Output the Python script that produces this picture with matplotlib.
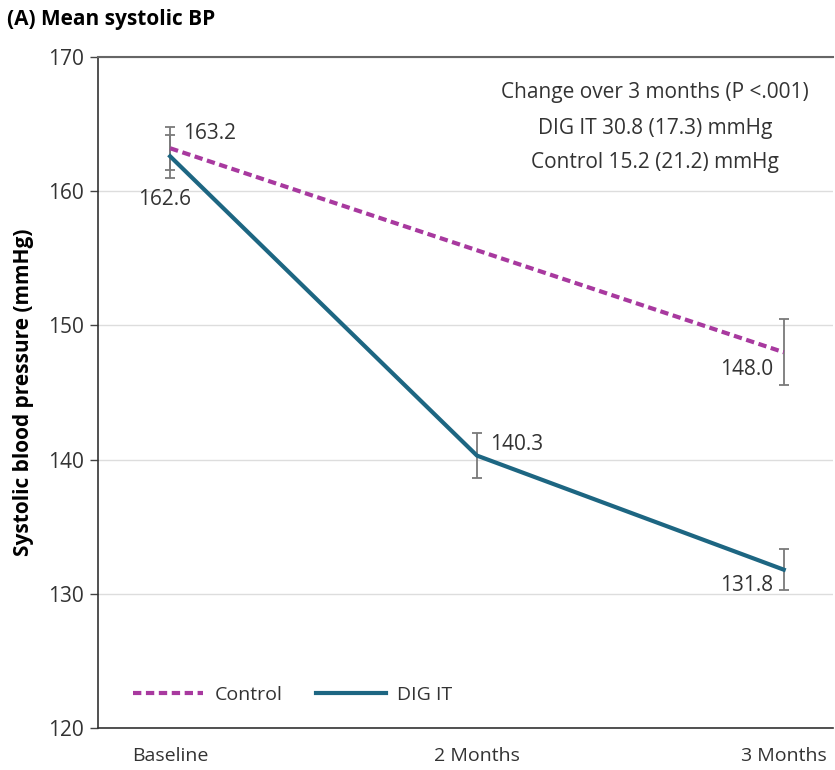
import matplotlib
matplotlib.use("Agg")
import matplotlib.pyplot as plt
from matplotlib.lines import Line2D

plt.rcParams['font.family'] = ['Open Sans', 'DejaVu Sans']

timepoints = ["Baseline", "2 Months", "3 Months"]
control_x = [0, 2]
control_mean = [163.2, 148.0]
control_err = [1.6, 2.45]
digit_x = [0, 1, 2]
digit_mean = [162.6, 140.3, 131.8]
digit_err = [1.6, 1.65, 1.55]

c_control = "#a8399f"
c_digit = "#1d6682"
c_err = "#7a7a7a"
dash = (0, (2.0, 1.1))

fig = plt.figure(figsize=(8.35, 7.7), dpi=100)
ax = fig.add_axes([0.1174, 0.0545, 0.88, 0.8715])

ax.errorbar(control_x, control_mean, yerr=control_err, fmt='none', ecolor=c_err,
            elinewidth=1.3, capsize=3.3, capthick=1.3, zorder=2)
ax.errorbar(digit_x, digit_mean, yerr=digit_err, fmt='none', ecolor=c_err,
            elinewidth=1.3, capsize=3.3, capthick=1.3, zorder=2)
ax.plot(control_x, control_mean, color=c_control, lw=3, ls=dash, zorder=3)
ax.plot(digit_x, digit_mean, color=c_digit, lw=3, zorder=4)

fs = 14
tc = "#333333"
ax.text(0.042, 164.3, f"{control_mean[0]:.1f}", fontsize=15, color=tc, ha='left', va='center')
ax.text(-0.018, 159.4, f"{digit_mean[0]:.1f}", fontsize=15, color=tc, ha='center', va='center')
ax.text(1.042, 141.1, f"{digit_mean[1]:.1f}", fontsize=15, color=tc, ha='left', va='center')
ax.text(1.964, 146.7, f"{control_mean[1]:.1f}", fontsize=15, color=tc, ha='right', va='center')
ax.text(1.964, 130.6, f"{digit_mean[2]:.1f}", fontsize=15, color=tc, ha='right', va='center')

ax.text(0.758, 0.947, "Change over 3 months (P <.001)", transform=ax.transAxes, fontsize=15,
        ha='center', va='center', color=tc)
ax.text(0.758, 0.893, "DIG IT 30.8 (17.3) mmHg", transform=ax.transAxes, fontsize=15,
        ha='center', va='center', color=tc)
ax.text(0.758, 0.843, "Control 15.2 (21.2) mmHg", transform=ax.transAxes, fontsize=15,
        ha='center', va='center', color=tc)

ax.set_xlim(-0.235, 2.16)
ax.set_ylim(120, 170)
ax.set_yticks([120, 130, 140, 150, 160, 170])
ax.set_xticks(digit_x)
ax.set_xticklabels(timepoints)
ax.tick_params(axis='x', length=0, pad=14, labelsize=fs, colors=tc)
ax.tick_params(axis='y', length=6, width=1, pad=4, labelsize=15, colors=tc)
ax.tick_params(axis='y', color="#444444")
ax.yaxis.grid(True, color="#dddddd", lw=1)
ax.set_axisbelow(True)
for s in ['left', 'bottom']:
    ax.spines[s].set_color("#333333")
    ax.spines[s].set_linewidth(1.2)
ax.spines['top'].set_color("#666666")
ax.spines['top'].set_linewidth(1.5)
ax.spines['right'].set_visible(False)

ax.set_ylabel("Systolic blood pressure (mmHg)", fontsize=15, fontweight='bold', labelpad=10)

handles = [Line2D([], [], color=c_control, lw=3, ls=dash),
           Line2D([], [], color=c_digit, lw=3)]
ax.legend(handles, ["Control", "DIG IT"], loc='lower left', bbox_to_anchor=(0.024, 0.01),
          ncol=2, frameon=False, fontsize=fs, handlelength=3.6, columnspacing=1.7,
          handletextpad=0.6, labelcolor=tc)

fig.text(0.008, 0.975, "(A) Mean systolic BP", fontsize=15, fontweight='bold', ha='left', va='center')

fig.savefig("out.png", dpi=100)
